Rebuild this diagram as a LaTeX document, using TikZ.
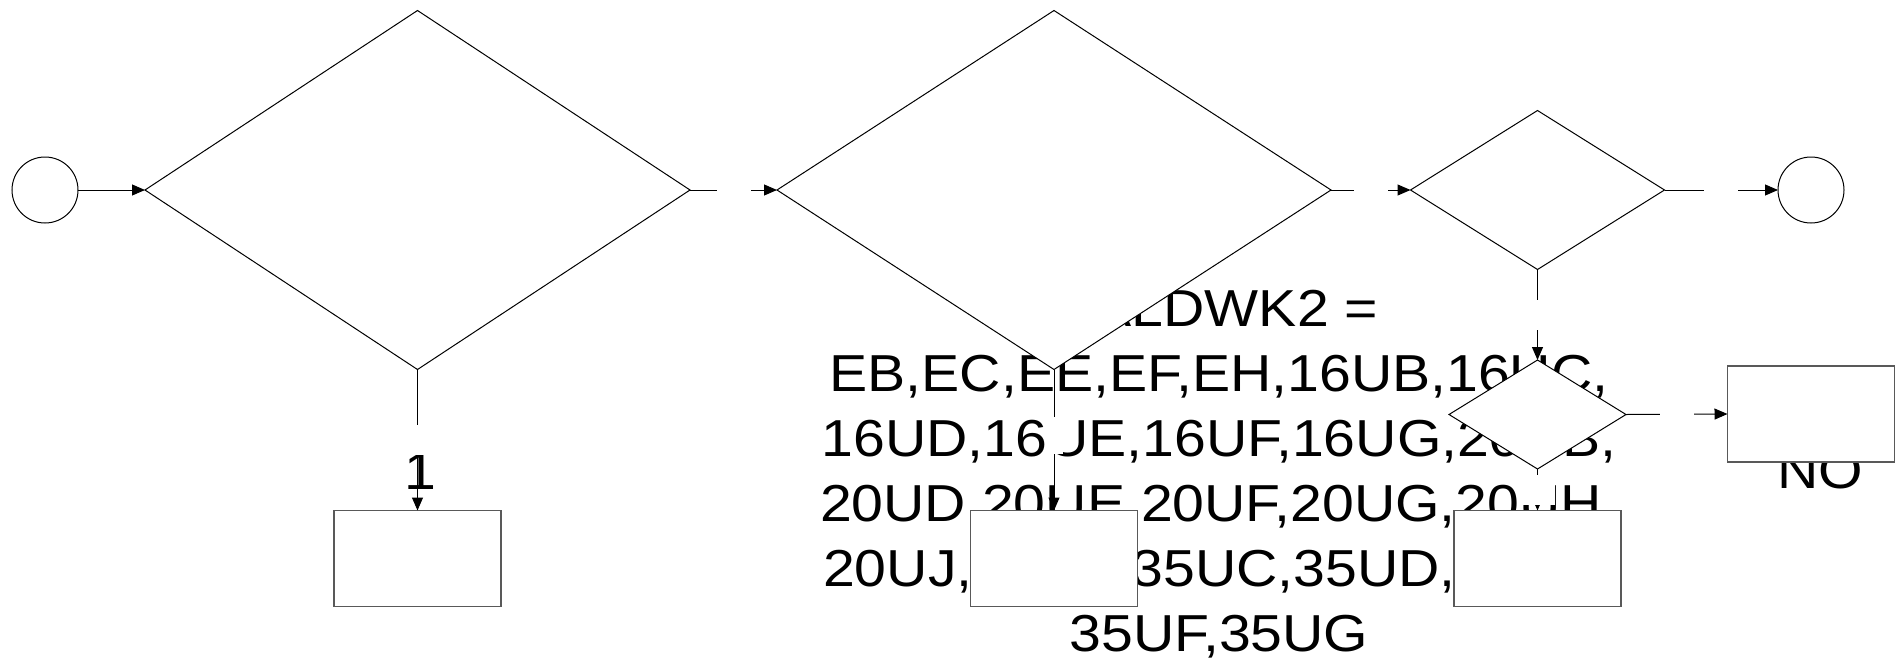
\documentclass[tikz,border=0pt]{standalone}
\usepackage{fontspec}
\newfontfamily\flowfont[FakeStretch=1.1]{Liberation Sans}
\usetikzlibrary{arrows.meta,shapes.geometric}

\begin{document}
\begin{tikzpicture}[x=1pt,y=-1pt,
    term/.style={circle,draw,line width=1pt,fill=white,minimum size=66pt,inner sep=0pt,outer sep=0pt},
    decision/.style={diamond,draw,line width=1pt,fill=white,inner sep=0pt,outer sep=0pt},
    procbox/.style={rectangle,draw=black!65,line width=1.4pt,fill=white,minimum width=167pt,minimum height=96pt,inner sep=0pt,outer sep=0pt},
    flow/.style={line width=1pt,-{Triangle[length=13pt,width=11pt]}},
    hgap/.style={fill=white,inner sep=0pt,minimum width=34pt,minimum height=18pt},
    vgap/.style={fill=white,inner sep=0pt,minimum width=34pt,minimum height=30pt},
    lbl/.style={inner sep=0pt,font=\flowfont\fontsize{52}{65}\selectfont}]
  \useasboundingbox (0,0) rectangle (1896,659);

  % labels first: shapes and gaps are drawn over them
  \node[lbl,align=center,anchor=north] (cond) at (1219,290)
    {VALDWK2 =\\EB,EC,EE,EF,EH,16UB,16UC,\\16UD,16UE,16UF,16UG,20UB,\\
     20UD,20UE,20UF,20UG,20UH,\\20UJ,35UB,35UC,35UD,35UE,\\35UF,35UG};
  \node[lbl,anchor=base] (lblone) at (420.5,489) {1};
  \node[lbl,anchor=base] (lblno) at (1820,488) {NO};

  % terminals
  \node[term] (start) at (45,190) {};
  \node[term] (stop)  at (1811,190) {};

  % decisions
  \node[decision,minimum width=545pt,minimum height=359pt] (d1) at (417.5,190) {};
  \node[decision,minimum width=554pt,minimum height=359pt] (d2) at (1054,190) {};
  \node[decision,minimum width=254pt,minimum height=159pt] (d3) at (1537.5,190) {};
  \node[decision,minimum width=177pt,minimum height=109pt] (d4) at (1537.5,414.5) {};

  % process boxes
  \node[procbox] (b1) at (417.5,558.5) {};
  \node[procbox] (b2) at (1054,558.5) {};
  \node[procbox] (b3) at (1537.5,558.5) {};
  \node[procbox] (bno) at (1811,414) {};

  % --- connectors
  \draw[flow] (start.east) -- (d1.west);
  \foreach \a/\b in {d1/d2,d2/d3,d3/stop,d4/bno} {
    \draw[flow] (\a.east) -- (\b.west) node[midway,hgap] {};
  }
  \draw[flow] (d1.south) -- (b1.north) node[midway,vgap] {};
  \draw[flow] (d2.south) -- (b2.north) node[pos=0.47,vgap,minimum width=17pt,minimum height=37pt] {};
  \draw[flow] (d3.south) -- (d4.north) node[midway,vgap] {};
  \draw[flow] (d4.south) -- (b3.north) node[midway,vgap] {};
\end{tikzpicture}
\end{document}
